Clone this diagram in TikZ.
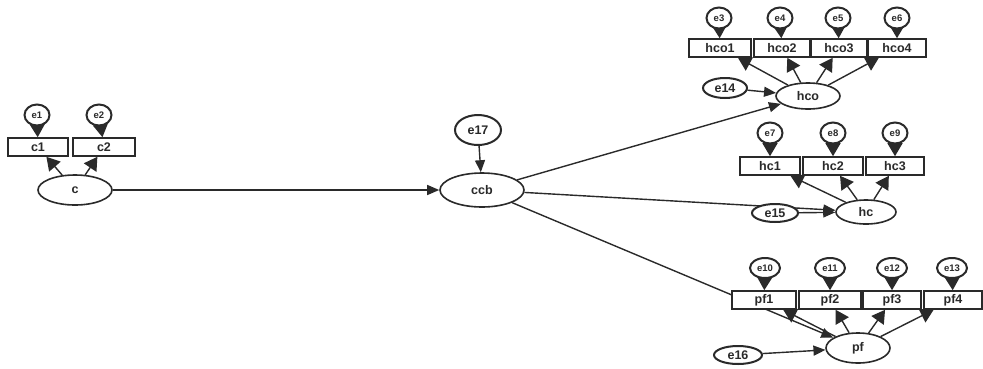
\documentclass[tikz,border=0pt]{standalone}
\usepackage{fontspec}
\setmainfont{Liberation Sans}
\usetikzlibrary{arrows.meta,shapes.geometric,backgrounds}
\definecolor{ink}{HTML}{2a2a2a}
\begin{document}
\begin{tikzpicture}[x=1pt,y=-1pt,
  ind/.style={draw=ink, line width=1.6pt, fill=white, minimum width=#1, minimum height=18pt,
    inner sep=0pt, text=ink, font=\bfseries\fontsize{12.5}{12.5}\selectfont},
  ind/.default=58pt,
  lat/.style={draw=ink, ellipse, line width=1.6pt, fill=white, inner sep=0pt,
    text=ink, font=\bfseries\fontsize{12.5}{12.5}\selectfont},
  err/.style={draw=ink, ellipse, line width=2pt, fill=white, inner sep=0pt,
    minimum width=25pt, minimum height=21pt, text=ink, font=\bfseries\fontsize{9.5}{9.5}\selectfont},
  res/.style={draw=ink, ellipse, line width=2pt, fill=white, inner sep=0pt,
    minimum width=44pt, minimum height=20pt, text=ink, font=\bfseries\fontsize{12.5}{12.5}\selectfont},
  arr/.style={draw=ink, line width=1.4pt, -{Triangle[length=12pt,width=10pt]}},
  wide/.style={draw=ink, line width=1.4pt, -{Triangle[length=13pt,width=15pt]}}]
\useasboundingbox (0,0) rectangle (983,368);

% construct c
\node[ind=60pt] (c1) at (38,147) {c1};
\node[ind=62pt] (c2) at (104,147) {c2};
\node[err] (e1) at (37,115) {e1};
\node[err] (e2) at (99,115) {e2};
\node[lat, minimum width=74pt, minimum height=30pt] (c) at (75,190) {c};

% construct ccb
\node[lat, minimum width=84pt, minimum height=34pt] (ccb) at (482,190) {ccb};
\node[res, minimum width=46pt, minimum height=30pt] (e17) at (478,130) {e17};

% construct hco
\node[ind=62pt] (hco1) at (720,48) {hco1};
\node[ind=56pt] (hco2) at (782,48) {hco2};
\node[ind=56pt] (hco3) at (839,48) {hco3};
\node[ind=58pt] (hco4) at (897,48) {hco4};
\node[err] (e3) at (719,18) {e3};
\node[err] (e4) at (780,18) {e4};
\node[err] (e5) at (838,18) {e5};
\node[err] (e6) at (897,18) {e6};
\node[lat, minimum width=64pt, minimum height=26pt] (hco) at (808,96) {hco};
\node[res] (e14) at (725,88) {e14};

% construct hc
\node[ind=60pt] (hc1) at (770,166) {hc1};
\node[ind=60pt] (hc2) at (833,166) {hc2};
\node[ind=58pt] (hc3) at (895,166) {hc3};
\node[err] (e7) at (770,133) {e7};
\node[err] (e8) at (833,133) {e8};
\node[err] (e9) at (895,133) {e9};
\node[lat, minimum width=60pt, minimum height=24pt] (hc) at (866,212) {hc};
\node[res, minimum width=46pt, minimum height=18pt] (e15) at (775,213) {e15};

% construct pf
\node[ind=64pt] (pf1) at (764,300) {pf1};
\node[ind=62pt] (pf2) at (830,300) {pf2};
\node[ind=58pt] (pf3) at (892,300) {pf3};
\node[ind=58pt] (pf4) at (953,300) {pf4};
\node[err, minimum width=30pt, minimum height=20pt] (e10) at (765,268) {e10};
\node[err, minimum width=30pt, minimum height=20pt] (e11) at (830,268) {e11};
\node[err, minimum width=30pt, minimum height=20pt] (e12) at (892,268) {e12};
\node[err, minimum width=30pt, minimum height=20pt] (e13) at (952,268) {e13};
\node[lat, minimum width=64pt, minimum height=30pt] (pf) at (858,348) {pf};
\node[res, minimum width=48pt, minimum height=18pt] (e16) at (738,355) {e16};

\begin{scope}[on background layer]
  % structural paths
  \draw[arr] (c) -- (ccb);
  \draw[arr] (e17) -- (ccb);
  \draw[arr] (ccb) -- (hco);
  \draw[arr] (ccb) -- (hc);
  \draw[arr] (ccb) -- (pf);
  % residuals of the latent factors
  \draw[arr] (e14) -- (hco);
  \draw[arr] (e15) -- (hc);
  \draw[arr] (e16) -- (pf);
  % measurement errors
  \foreach \e/\v in {e1/c1,e2/c2,e3/hco1,e4/hco2,e5/hco3,e6/hco4,e7/hc1,e8/hc2,e9/hc3,e10/pf1,e11/pf2,e12/pf3,e13/pf4}
    \draw[wide] (\e) -- (\v);
  % loadings
  \foreach \l/\v in {c/c1,c/c2,hco/hco1,hco/hco2,hco/hco3,hco/hco4,hc/hc1,hc/hc2,hc/hc3,pf/pf1,pf/pf2,pf/pf3,pf/pf4}
    \draw[wide] (\l) -- (\v);
\end{scope}
\end{tikzpicture}
\end{document}
